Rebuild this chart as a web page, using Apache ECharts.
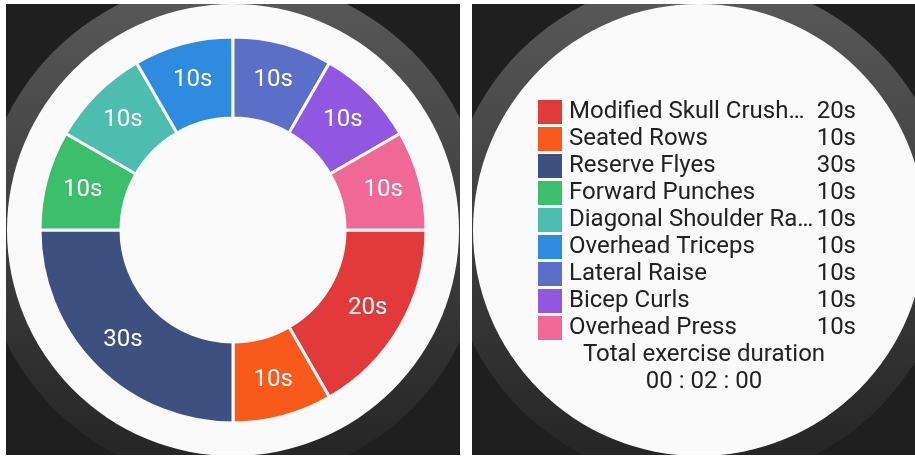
<!DOCTYPE html>
<html>
<head>
<meta charset="utf-8">
<script src="https://cdn.jsdelivr.net/npm/echarts@6/dist/echarts.min.js"></script>
<style>
  html, body { margin: 0; padding: 0; background: #ffffff; width: 915px; height: 456px; overflow: hidden; }
  .panel { position: absolute; top: 4px; height: 451px; background: #1f1f1f; overflow: hidden; }
  #left { left: 6px; width: 454px; }
  #right { left: 472px; width: 443px; }
</style>
</head>
<body>
<div id="left" class="panel"></div>
<div id="right" class="panel"></div>
<script>
// ---- data ----
const exerciseNames = [
  'Modified Skull Crushers',
  'Seated Rows',
  'Reserve Flyes',
  'Forward Punches',
  'Diagonal Shoulder Raise',
  'Overhead Triceps',
  'Lateral Raise',
  'Bicep Curls',
  'Overhead Press'
];
const durationsSec = [20, 10, 30, 10, 10, 10, 10, 10, 10];
const segmentColors = ['#e2393a', '#f85a1b', '#3d5080', '#3dbe6c', '#4dbdb0', '#2e8bdd', '#5c6fc8', '#9157e0', '#f06895'];
const totalTitle = 'Total exercise duration';
const MAX_NAME_CHARS = 20;

// ---- helpers ----
const FONT = 'Roboto, "Noto Sans", sans-serif';
const CX = 227, CY = 226;
function bezelGraphics() {
  return [
    { type: 'circle', shape: { cx: CX, cy: CY, r: 253 }, silent: true, z: -10,
      style: { fill: new echarts.graphic.LinearGradient(0, 0, 0, 1, [
        { offset: 0, color: '#5a5a5a' }, { offset: 0.5, color: '#3e3e3e' }, { offset: 1, color: '#232323' }]) } },
    { type: 'circle', shape: { cx: CX, cy: CY, r: 226 }, silent: true, z: -9, style: { fill: '#fafafa' } }
  ];
}
function truncate(text, maxChars) {
  return text.length > maxChars ? text.slice(0, maxChars) + '…' : text;
}
function pad(n) { return (n < 10 ? '0' : '') + n; }

const pieData = exerciseNames.map((n, i) => ({ name: n, value: durationsSec[i], itemStyle: { color: segmentColors[i] } }));
const total = durationsSec.reduce((a, b) => a + b, 0);
const totalStr = pad(Math.floor(total / 3600)) + ' : ' + pad(Math.floor(total % 3600 / 60)) + ' : ' + pad(total % 60);

// ---- left: donut ----
const left = echarts.init(document.getElementById('left'), null, { renderer: 'canvas' });
left.setOption({
  animation: false,
  graphic: bezelGraphics(),
  series: [{
    type: 'pie',
    center: [CX, CY],
    radius: [112, 193],
    startAngle: 0,
    clockwise: true,
    silent: true,
    data: pieData,
    itemStyle: { borderColor: '#fafafa', borderWidth: 3 },
    label: { show: true, position: 'inside', formatter: p => p.value + 's',
             color: '#ffffff', fontSize: 24, fontFamily: FONT },
    labelLine: { show: false }
  }]
});

// ---- right: legend ----
const LEG_FONT_SIZE = 24;
const right = echarts.init(document.getElementById('right'), null, { renderer: 'canvas' });
right.setOption({
  animation: false,
  graphic: bezelGraphics(),
  title: {
    text: totalTitle + '\n' + totalStr,
    left: 227, top: 332, textAlign: 'center',
    textStyle: { color: '#212121', fontSize: 24, fontWeight: 'normal', fontFamily: FONT, lineHeight: 27 }
  },
  legend: {
    orient: 'vertical',
    left: 61, top: 91,
    itemWidth: 24, itemHeight: 24, itemGap: 3,
    icon: 'rect',
    selectedMode: false,
    data: exerciseNames,
    formatter: name => {
      const i = exerciseNames.indexOf(name);
      return '{n|' + truncate(name, MAX_NAME_CHARS) + '}{v|' + durationsSec[i] + 's}';
    },
    textStyle: {
      color: '#212121', fontFamily: FONT, fontSize: LEG_FONT_SIZE,
      rich: {
        n: { width: 249, padding: [0, 0, 0, 2], fontSize: LEG_FONT_SIZE, fontFamily: FONT, color: '#212121', lineHeight: 24 },
        v: { width: 38, align: 'right', fontSize: LEG_FONT_SIZE, fontFamily: FONT, color: '#212121', lineHeight: 24 }
      }
    }
  },
  series: [{
    type: 'pie', radius: 0, center: [-100, -100], silent: true,
    data: pieData, label: { show: false }, labelLine: { show: false }
  }]
});
</script>
</body>
</html>
